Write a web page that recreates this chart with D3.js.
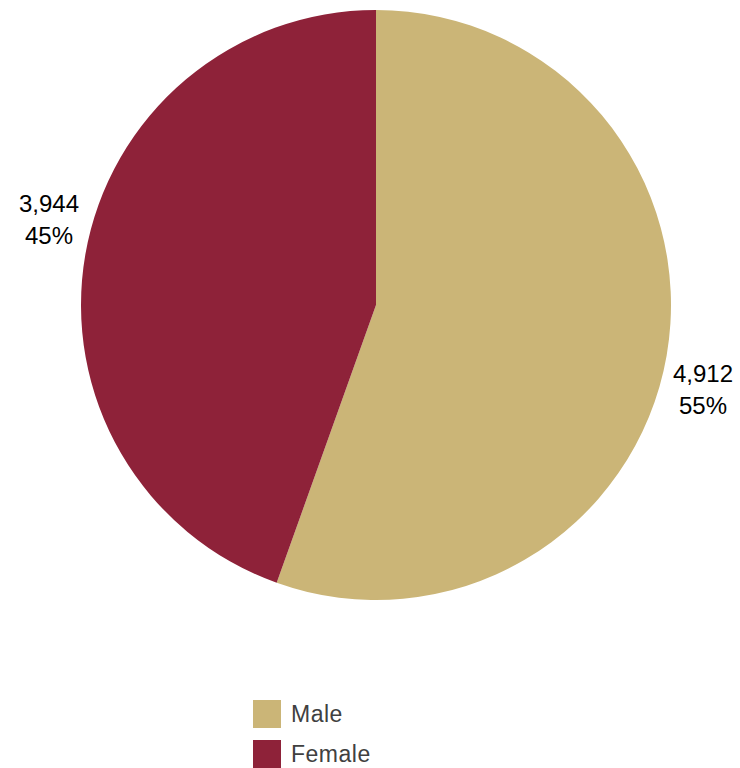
<!DOCTYPE html>
<html>
<head>
<meta charset="utf-8">
<script src="https://cdn.jsdelivr.net/npm/d3@7"></script>
<style>
  html, body { margin: 0; padding: 0; background: #fff; }
  svg { display: block; font-family: "Liberation Sans", Arial, sans-serif; }
</style>
</head>
<body>
<svg id="chart" width="740" height="768"></svg>
<script>
const categories = ["Male", "Female"];
const values = [4912, 3944];
const colors = ["#CBB577", "#8E2239"];

const W = 740, H = 768;
const cx = 376, cy = 305, R = 295;
const svg = d3.select("#chart");

const total = d3.sum(values);
const data = categories.map((c, i) => ({ name: c, value: values[i], color: colors[i] }));

const pie = d3.pie().value(d => d.value).sort(null);
const arcs = pie(data);
const arc = d3.arc().innerRadius(0).outerRadius(R);

const g = svg.append("g").attr("transform", `translate(${cx},${cy})`);
g.selectAll("path").data(arcs).enter().append("path")
  .attr("d", arc)
  .attr("fill", d => d.data.color);

const fmt = d3.format(",");
const labelR = 338;
const labelOffset = 4.8 * Math.PI / 180;
arcs.forEach(a => {
  const mid = (a.startAngle + a.endAngle) / 2 + labelOffset;
  const x = labelR * Math.sin(mid);
  const y = -labelR * Math.cos(mid);
  const t = g.append("text")
    .attr("text-anchor", "middle")
    .attr("font-size", 24)
    .attr("fill", "#000");
  t.append("tspan").attr("x", x).attr("y", y - 8).text(fmt(a.data.value));
  t.append("tspan").attr("x", x).attr("y", y + 24).text(Math.round(a.data.value / total * 100) + "%");
});

const legend = svg.append("g").attr("transform", "translate(253,700)");
data.forEach((d, i) => {
  const row = legend.append("g").attr("transform", `translate(0,${i * 40})`);
  row.append("rect").attr("width", 28).attr("height", 28).attr("fill", d.color);
  row.append("text").attr("x", 38).attr("y", 22)
    .attr("font-size", 23).attr("letter-spacing", 0.5)
    .attr("fill", "#404040").text(d.name);
});
</script>
</body>
</html>
